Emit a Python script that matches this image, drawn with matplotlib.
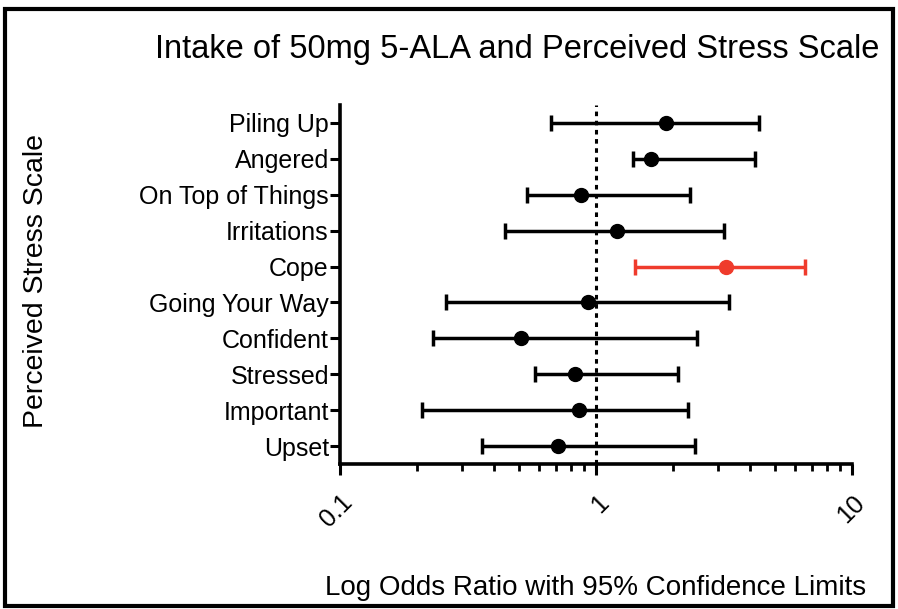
import matplotlib
matplotlib.use("Agg")
import matplotlib.pyplot as plt
from matplotlib.patches import Rectangle
from matplotlib.ticker import LogLocator, NullFormatter

plt.rcParams['font.family'] = ['Liberation Sans', 'DejaVu Sans']

# items listed bottom to top
items = ['Upset', 'Important', 'Stressed', 'Confident', 'Going Your Way',
         'Cope', 'Irritations', 'On Top of Things', 'Angered', 'Piling Up']
odds = [0.71, 0.86, 0.83, 0.51, 0.93, 3.23, 1.21, 0.875, 1.64, 1.87]
lower = [0.36, 0.21, 0.58, 0.23, 0.26, 1.42, 0.44, 0.54, 1.39, 0.67]
upper = [2.44, 2.28, 2.09, 2.48, 3.30, 6.55, 3.16, 2.33, 4.19, 4.32]
highlight = ['Cope']

fig = plt.figure(figsize=(8.98, 6.09), dpi=100)
ax = fig.add_axes([0.3786, 0.2381, 0.5702, 0.5895])

for i, name in enumerate(items):
    c = '#ef3b2c' if name in highlight else 'black'
    ax.errorbar(odds[i], i,
                xerr=[[odds[i] - lower[i]], [upper[i] - odds[i]]],
                fmt='o', color=c, ecolor=c, markersize=10, elinewidth=2.5,
                capsize=6, capthick=2.5, zorder=3)

ax.axvline(1, color='black', linestyle=(0, (1.5, 1.5)), linewidth=2.2, zorder=2)

ax.set_xscale('log')
ax.set_xlim(0.1, 10)
ax.set_ylim(-0.5, 9.5)
ax.set_yticks(range(len(items)))
ax.set_yticklabels(items, fontsize=18)
ax.set_xticks([0.1, 1, 10])
ax.set_xticklabels(['0.1', '1', '10'], fontsize=18, rotation=45,
                   ha='right', va='top', rotation_mode='anchor')
ax.xaxis.set_minor_locator(LogLocator(base=10, subs=range(2, 10)))
ax.xaxis.set_minor_formatter(NullFormatter())

for s in ['top', 'right']:
    ax.spines[s].set_visible(False)
for s in ['left', 'bottom']:
    ax.spines[s].set_linewidth(2.6)

ax.tick_params(axis='y', which='major', length=7, width=2.2, pad=1)
ax.tick_params(axis='x', which='major', length=8, width=2.2, pad=11)
ax.tick_params(axis='x', which='minor', length=5, width=2.0)

ax.set_xlabel('Log Odds Ratio with 95% Confidence Limits', fontsize=20)
ax.xaxis.set_label_coords(0.5, -0.31)
ax.set_ylabel('Perceived Stress Scale', fontsize=20.5)
ax.yaxis.set_label_coords(-0.568, 0.51)

fig.text(0.576, 0.918, 'Intake of 50mg 5-ALA and Perceived Stress Scale',
         fontsize=23.5, ha='center', va='center')

fig.patches.append(Rectangle((5 / 898, 1 - 606 / 609), 888 / 898, 597 / 609,
                             transform=fig.transFigure, fill=False,
                             edgecolor='black', linewidth=3, zorder=10))

plt.savefig('out.png', dpi=100)
